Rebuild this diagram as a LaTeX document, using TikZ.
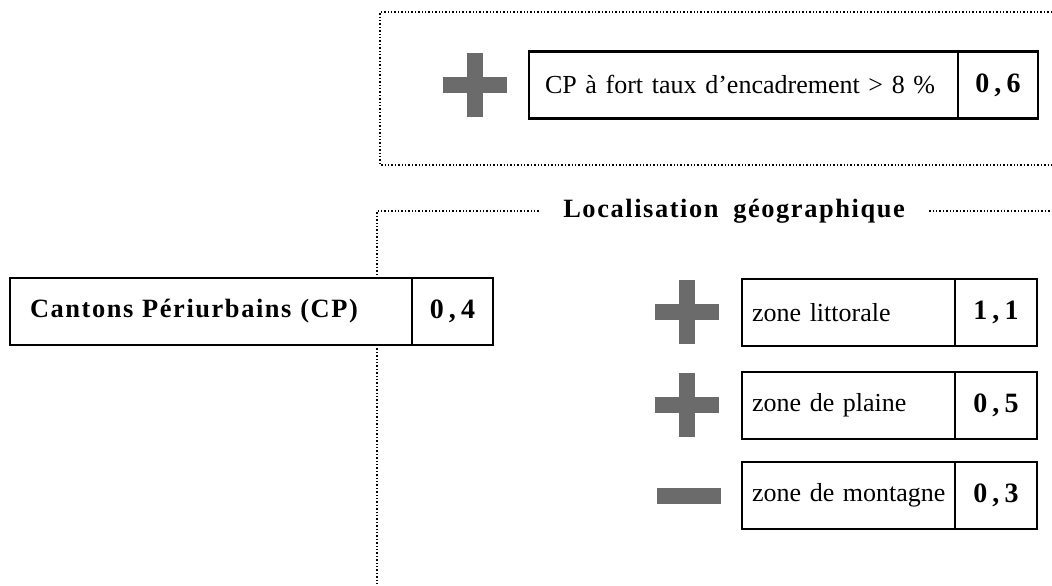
\documentclass[tikz,border=0pt]{standalone}
\usepackage{fontspec}
\setmainfont{Liberation Serif}[WordSpace=0.75]
\newfontfamily\spacedbf[LetterSpace=6,WordSpace=1.8]{Liberation Serif}
\newfontfamily\valbf[LetterSpace=18]{Liberation Serif}
\usetikzlibrary{positioning}

\begin{document}
\begin{tikzpicture}[
    x=0.5pt, y=-0.5pt,
    every node/.style={font=\fontsize{13}{15}\selectfont},
    lab/.style={draw, line width=1.1pt, fill=white, outer sep=0pt, anchor=west, align=left, minimum height=33.5pt, inner xsep=5pt},
    val/.style={draw, line width=1.1pt, fill=white, outer sep=0pt, minimum height=33.5pt, minimum width=41pt, font=\fontsize{14}{16}\valbf\bfseries},
    ttl/.style={font=\fontsize{13.2}{15}\spacedbf\bfseries, inner xsep=12pt},
    dotline/.style={densely dotted, line width=0.7pt},
    bar/.style={fill=black!58, inner sep=0pt, outer sep=0pt},
    hbar/.style={bar, minimum width=32pt, minimum height=8pt},
    vbar/.style={bar, minimum width=8pt, minimum height=32pt}
]
    \useasboundingbox (0,0) rectangle (1052,585);

    % ===== Encadrement (haut) =====
    \draw[dotline] (1052,12) -- (380,12) -- (380,165) -- (1052,165);
    \node[hbar] (p0h) at (475,85) {};
    \node[vbar] (p0v) at (475,85) {};
    \node[lab, inner xsep=8pt, text width=198.5pt] (enc) at (529,85) {CP à fort taux d’encadrement > 8 \%};
    \node[val, minimum width=40pt, right=0pt of enc] (venc) {0,6};

    % ===== Localisation geographique =====
    \node[ttl] (loc) at (734,211) {Localisation géographique};
    \coordinate (bas) at (377,585);
    \coordinate (fin) at (1052,211);
    \draw[dotline] (loc.west) -| (bas);
    \draw[dotline] (loc.east) -- (fin);

    % ===== Cantons periurbains (gauche) =====
    \node[lab, inner xsep=10pt, text width=181pt, font=\fontsize{13.2}{15}\spacedbf\bfseries] (cp) at (10,311.5) {Cantons Périurbains (CP)};
    \node[val, minimum width=40.5pt, right=0pt of cp] (vcp) {0,4};

    % ===== Zones (droite) =====
    \node[hbar] (p1h) at (687,312) {};
    \node[vbar] (p1v) at (687,312) {};
    \node[lab, text width=96.5pt] (lit) at (742,312.5) {zone littorale};
    \node[val, right=0pt of lit] (vlit) {1,1};

    \node[hbar] (p2h) at (687,405) {};
    \node[vbar] (p2v) at (687,405) {};
    \node[lab, text width=96.5pt] (pla) at (742,405.5) {zone de plaine};
    \node[val, right=0pt of pla] (vpla) {0,5};

    \node[hbar] (m3h) at (689,496) {};
    \node[lab, text width=96.5pt] (mon) at (742,495.5) {\mbox{zone de montagne}};
    \node[val, right=0pt of mon] (vmon) {0,3};
\end{tikzpicture}
\end{document}
